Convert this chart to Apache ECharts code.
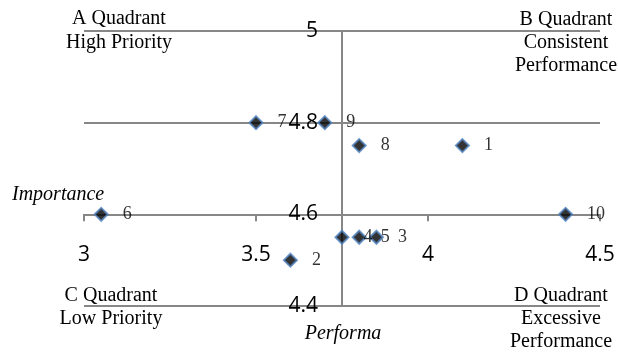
<!DOCTYPE html>
<html>
<head>
<meta charset="utf-8">
<script src="https://cdn.jsdelivr.net/npm/echarts@6/dist/echarts.min.js"></script>
<style>
  html, body { margin: 0; padding: 0; background: #fff; }
  #chart { width: 618px; height: 354px; }
</style>
</head>
<body>
<div id="chart"></div>
<script>
// Importance-performance items
var itemNames   = ['1', '2', '3', '4', '5', '6', '7', '8', '9', '10'];
var performance = [4.1, 3.6, 3.85, 3.75, 3.8, 3.05, 3.5, 3.8, 3.7, 4.4];
var importance  = [4.75, 4.5, 4.55, 4.55, 4.55, 4.6, 4.8, 4.75, 4.8, 4.6];

// Axis ticks
var xTicks = [3, 3.5, 4, 4.5];
var yTicks = [4.4, 4.6, 4.8, 5];

// Where the axes cross
var xCross = 3.75;
var yCross = 4.6;

var chart = echarts.init(document.getElementById('chart'));

var points = itemNames.map(function (n, i) {
  return { name: n, value: [performance[i], importance[i]] };
});

var serif = '"Liberation Serif", "Times New Roman", serif';
var sans = '"Open Sans", sans-serif';
var lineCol = '#878787';

function fmt(v) { return String(Math.round(v * 10) / 10); }

var gridLeft = 84, gridTop = 31, gridRight = 18, gridBottom = 48;
var plotW = 618 - gridLeft - gridRight;
var plotH = 354 - gridTop - gridBottom;
var xMin = xTicks[0], xMax = xTicks[xTicks.length - 1];
var yMin = yTicks[0], yMax = yTicks[yTicks.length - 1];

chart.setOption({
  animation: false,
  grid: { left: gridLeft, top: gridTop, right: gridRight, bottom: gridBottom },
  xAxis: {
    type: 'value',
    min: xMin, max: xMax, interval: xTicks[1] - xTicks[0],
    position: 'bottom',
    // shift the axis up so it crosses the vertical axis at yCross
    offset: -((yCross - yMin) / (yMax - yMin)) * plotH,
    axisLine: { show: true, onZero: false, lineStyle: { color: lineCol, width: 2 } },
    axisTick: { show: true, length: 7, lineStyle: { color: lineCol, width: 2 } },
    axisLabel: { margin: 30, color: '#000', fontFamily: sans, fontSize: 21, formatter: fmt },
    splitLine: { show: false }
  },
  yAxis: {
    type: 'value',
    min: yMin, max: yMax, interval: yTicks[1] - yTicks[0],
    position: 'left',
    // shift the axis right so it sits at xCross
    offset: -((xCross - xMin) / (xMax - xMin)) * plotW,
    axisLine: { show: true, onZero: false, lineStyle: { color: lineCol, width: 2 } },
    axisTick: { show: false },
    axisLabel: { margin: 24, color: '#000', fontFamily: sans, fontSize: 21, formatter: fmt },
    splitLine: { show: true, lineStyle: { color: lineCol, width: 2 } }
  },
  series: [{
    type: 'scatter',
    data: points,
    symbol: 'diamond',
    symbolSize: 13,
    itemStyle: { color: '#000', borderColor: '#4F81BD', borderWidth: 2 },
    label: {
      show: true,
      position: 'right',
      distance: 14,
      formatter: '{b}',
      color: '#000',
      fontFamily: serif,
      fontSize: 18
    },
    z: 3
  }],
  graphic: [
    { type: 'text', x: 119, y: 31, style: { text: 'A Quadrant\nHigh Priority', font: '20px ' + serif, fill: '#000', align: 'center', verticalAlign: 'middle', lineHeight: 24 } },
    { type: 'text', x: 566, y: 43, style: { text: 'B Quadrant\nConsistent\nPerformance', font: '20px ' + serif, fill: '#000', align: 'center', verticalAlign: 'middle', lineHeight: 23 } },
    { type: 'text', x: 111, y: 307, style: { text: 'C Quadrant\nLow Priority', font: '20px ' + serif, fill: '#000', align: 'center', verticalAlign: 'middle', lineHeight: 23 } },
    { type: 'text', x: 561, y: 319, style: { text: 'D Quadrant\nExcessive\nPerformance', font: '20px ' + serif, fill: '#000', align: 'center', verticalAlign: 'middle', lineHeight: 23 } },
    { type: 'text', x: 12, y: 195, style: { text: 'Importance', font: 'italic 20px ' + serif, fill: '#000', align: 'left', verticalAlign: 'middle' } },
    { type: 'text', x: 343, y: 334, style: { text: 'Performa', font: 'italic 20px ' + serif, fill: '#000', align: 'center', verticalAlign: 'middle' } }
  ]
});
</script>
</body>
</html>
